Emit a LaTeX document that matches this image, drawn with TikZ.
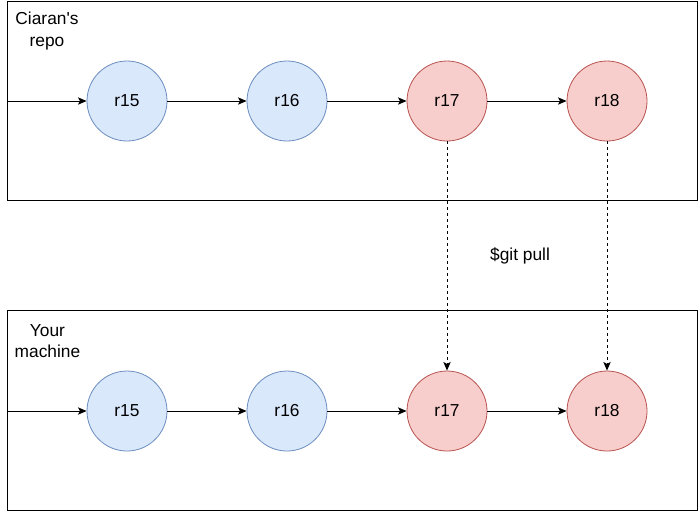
\documentclass[tikz,border=0pt]{standalone}
\usepackage{fontspec}
\setmainfont{Liberation Sans}[Ligatures=TeXOff]
\usetikzlibrary{arrows.meta}
\definecolor{bluefill}{HTML}{DAE8FC}
\definecolor{bluedraw}{HTML}{6C8EBF}
\definecolor{redfill}{HTML}{F8CECC}
\definecolor{reddraw}{HTML}{B85450}
\begin{document}
\begin{tikzpicture}[x=0.75pt,y=-0.75pt,
  font=\fontsize{13}{16}\selectfont,
  commitblue/.style={circle,draw=bluedraw,fill=bluefill,minimum size=60pt,inner sep=0pt,line width=0.6pt},
  commitred/.style={circle,draw=reddraw,fill=redfill,minimum size=60pt,inner sep=0pt,line width=0.6pt},
  repobox/.style={draw=black,line width=0.75pt},
  link/.style={-{Stealth[length=6.5pt,width=5.5pt,inset=1.5pt]},line width=0.75pt},
  pull/.style={link,dashed,dash pattern=on 2.25pt off 2.25pt}]
\useasboundingbox (0,0) rectangle (698,519);
\fill[white] (0,0) rectangle (698,519);
% boxes
\draw[repobox] (7,1) rectangle (697,200);
\draw[repobox] (7,310) rectangle (697,510);
\node[align=center] (lbltop) at (47,31) {Ciaran's\\repo};
\node[align=center] (lblbot) at (47.5,341) {Your\\machine};
% top row
\coordinate (ta) at (7,101);
\node[commitblue] (t15) at (127,101) {r15};
\node[commitblue] (t16) at (287,101) {r16};
\node[commitred] (t17) at (447,101) {r17};
\node[commitred] (t18) at (607,101) {r18};
% bottom row
\coordinate (ba) at (7,411);
\node[commitblue] (b15) at (127,411) {r15};
\node[commitblue] (b16) at (287,411) {r16};
\node[commitred] (b17) at (447,411) {r17};
\node[commitred] (b18) at (607,411) {r18};
\draw[link] (ta) -- (t15);
\draw[link] (t15) -- (t16);
\draw[link] (t16) -- (t17);
\draw[link] (t17) -- (t18);
\draw[link] (ba) -- (b15);
\draw[link] (b15) -- (b16);
\draw[link] (b16) -- (b17);
\draw[link] (b17) -- (b18);
\draw[pull] (t17) -- (b17);
\draw[pull] (t18) -- (b18);
\node (pulllbl) at (520,256) {\$git pull};
\end{tikzpicture}
\end{document}
